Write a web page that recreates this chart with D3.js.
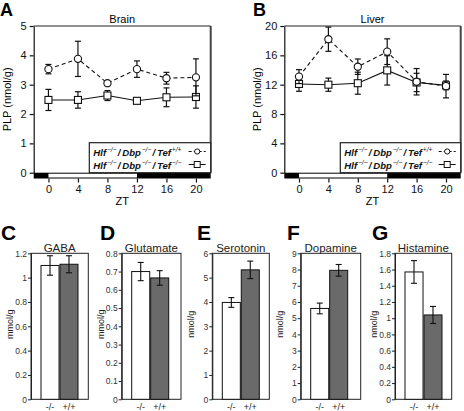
<!DOCTYPE html>
<html><head><meta charset="utf-8">
<script src="https://cdn.jsdelivr.net/npm/d3@7"></script>
<style>
html,body{margin:0;padding:0;background:#fff;}
svg{display:block;font-family:"Liberation Sans",Arial,Helvetica,sans-serif;}
</style></head>
<body>
<svg id="chart" width="464" height="411"></svg>
<script>
// ---------- DATA ----------
const zt = [0, 4, 8, 12, 16, 20];
const ztTicks = [0, 4, 8, 12, 16, 20];
const brainWT = [3.53, 3.88, 3.05, 3.53, 3.22, 3.25];
const brainWTErr = [0.16, 0.6, 0.05, 0.28, 0.2, 0.63];
const brainKO = [2.48, 2.48, 2.63, 2.45, 2.57, 2.58];
const brainKOErr = [0.36, 0.28, 0.17, 0.09, 0.32, 0.38];
const brainTicks = [0, 1, 2, 3, 4, 5];
const liverWT = [13.1, 18.2, 14.45, 16.5, 12.4, 11.8];
const liverWTErr = [0.95, 1.65, 1.05, 1.75, 1.8, 1.6];
const liverKO = [12.1, 12.0, 12.2, 13.95, 12.3, 11.9];
const liverKOErr = [1.0, 0.9, 1.5, 2.0, 1.25, 0.6];
const liverTicks = [0, 4, 8, 12, 16, 20];
const legendGenes = ["Hlf", "Dbp", "Tef"];
const legendWT = ["\u2212/\u2212", "\u2212/\u2212", "+/+"];
const legendKO = ["\u2212/\u2212", "\u2212/\u2212", "\u2212/\u2212"];
const genotypes = ["-/-", "+/+"];
const gabaVals = [1.10, 1.11], gabaErr = [0.08, 0.07];
const gabaTicks = [0, 0.2, 0.4, 0.6, 0.8, 1, 1.2];
const gluVals = [0.70, 0.665], gluErr = [0.05, 0.04];
const gluTicks = [0, 0.1, 0.2, 0.3, 0.4, 0.5, 0.6, 0.7, 0.8];
const seroVals = [3.98, 5.32], seroErr = [0.2, 0.36];
const seroTicks = [0, 1, 2, 3, 4, 5, 6];
const dopaVals = [5.6, 7.95], dopaErr = [0.33, 0.36];
const dopaTicks = [0, 1, 2, 3, 4, 5, 6, 7, 8, 9];
const histVals = [1.57, 1.04], histErr = [0.14, 0.105];
const histTicks = [0, 0.2, 0.4, 0.6, 0.8, 1, 1.2, 1.4, 1.6, 1.8];

const svg = d3.select("#chart");

function legendRow(g, x0, yBase, sups) {
  let cx = x0;
  legendGenes.forEach((gene, i) => {
    const t = g.append("text").attr("x", cx).attr("y", yBase).attr("font-size", 9.6)
      .attr("font-style", "italic").attr("font-weight", "bold").attr("fill", "#111").text(gene);
    cx += t.node().getComputedTextLength() + 0.8;
    const s = g.append("text").attr("x", cx).attr("y", yBase - 4).attr("font-size", 6.6)
      .attr("font-style", "italic").attr("fill", "#111").text(sups[i]);
    cx += s.node().getComputedTextLength() + 1.3;
    if (i < legendGenes.length - 1) {
      const sl = g.append("text").attr("x", cx).attr("y", yBase).attr("font-size", 9.6)
        .attr("font-style", "italic").attr("font-weight", "bold").attr("fill", "#111").text("/");
      cx += sl.node().getComputedTextLength() + 1.8;
    }
  });
}

// ---------- LINE PANELS ----------
function linePanel(o) {
  const g = svg.append("g");
  const x = d3.scaleLinear().domain([-2, 22]).range([o.left, o.right]);
  const y = d3.scaleLinear().domain([0, o.ymax]).range([o.bottom, o.top]);
  g.append("text").attr("x", o.letterX).attr("y", 16).attr("font-size", 18).attr("font-weight", "bold").text(o.letter);
  g.append("text").attr("x", (o.left + o.right) / 2).attr("y", 23).attr("text-anchor", "middle").attr("font-size", 11).text(o.title);
  g.append("line").attr("x1", o.left).attr("x2", o.right).attr("y1", o.top).attr("y2", o.top).attr("stroke", "#222").attr("stroke-width", 1.2);
  g.append("line").attr("x1", o.right).attr("x2", o.right).attr("y1", o.top).attr("y2", o.bottom).attr("stroke", "#444").attr("stroke-width", 2);
  const ya = g.append("g").attr("transform", `translate(${o.left},0)`)
    .call(d3.axisLeft(y).tickValues(o.ticks).tickSize(4).tickSizeOuter(0).tickFormat(d3.format("d")));
  ya.select(".domain").attr("stroke", "#111").attr("stroke-width", 1.2);
  ya.selectAll("line").attr("stroke", "#111").attr("stroke-width", 1.2);
  ya.selectAll("text").attr("font-size", 11).attr("fill", "#111").attr("font-family", "Liberation Sans, Arial, sans-serif");
  g.append("text").attr("transform", `translate(${o.left - 23},${(o.top + o.bottom) / 2}) rotate(-90)`)
    .attr("text-anchor", "middle").attr("font-size", 11).text("PLP (nmol/g)");
  const barH = 5.8;
  g.append("rect").attr("x", o.left).attr("y", o.bottom).attr("width", o.right - o.left).attr("height", barH).attr("fill", "#000");
  g.append("rect").attr("x", x(0)).attr("y", o.bottom + 1).attr("width", x(12) - x(0)).attr("height", barH - 2).attr("fill", "#fff");
  const xa = g.append("g").attr("transform", `translate(0,${o.bottom + barH})`)
    .call(d3.axisBottom(x).tickValues(ztTicks).tickSize(4).tickSizeOuter(0).tickPadding(3).tickFormat(d3.format("d")));
  xa.select(".domain").remove();
  xa.selectAll("line").attr("stroke", "#111").attr("stroke-width", 1.2);
  xa.selectAll("text").attr("font-size", 11).attr("fill", "#111").attr("font-family", "Liberation Sans, Arial, sans-serif");
  g.append("text").attr("x", (o.left + o.right) / 2).attr("y", 205).attr("text-anchor", "middle").attr("font-size", 11).text("ZT");

  // legend
  const lx = o.legendX, ly = 142.7, lw = o.right - o.legendX, lh = o.bottom - 142.7;
  g.append("rect").attr("x", lx).attr("y", ly).attr("width", lw).attr("height", lh).attr("fill", "#fff").attr("stroke", "#222").attr("stroke-width", 1.2);
  const legendItems = [
    { sups: legendWT, dash: "3,2", shape: "circle", yy: 151.5 },
    { sups: legendKO, dash: null, shape: "square", yy: 164.5 }
  ];
  legendItems.forEach(it => {
    legendRow(g, lx + 4, it.yy + 4, it.sups);
    const sx1 = o.right - 22, sx2 = o.right - 5, sxm = (sx1 + sx2) / 2;
    g.append("line").attr("x1", sx1).attr("x2", sx2).attr("y1", it.yy).attr("y2", it.yy).attr("stroke", "#111").attr("stroke-width", 1)
      .attr("stroke-dasharray", it.dash);
    if (it.shape === "circle") g.append("circle").attr("cx", sxm).attr("cy", it.yy).attr("r", 2.6).attr("fill", "#fff").attr("stroke", "#111");
    else g.append("rect").attr("x", sxm - 3).attr("y", it.yy - 3).attr("width", 6).attr("height", 6).attr("fill", "#fff").attr("stroke", "#111");
  });

  const series = [
    { vals: o.ko, err: o.koErr, dash: null, shape: "square" },
    { vals: o.wt, err: o.wtErr, dash: "4,3", shape: "circle" }
  ];
  series.forEach(s => {
    const pts = zt.map((z, i) => ({ z, v: s.vals[i], e: s.err[i] }));
    pts.forEach(p => {
      g.append("line").attr("x1", x(p.z)).attr("x2", x(p.z)).attr("y1", y(p.v - p.e)).attr("y2", y(p.v + p.e)).attr("stroke", "#111").attr("stroke-width", 1.2);
      [p.v - p.e, p.v + p.e].forEach(v => g.append("line").attr("x1", x(p.z) - 3).attr("x2", x(p.z) + 3).attr("y1", y(v)).attr("y2", y(v)).attr("stroke", "#111").attr("stroke-width", 1.2));
    });
    g.append("path").datum(pts).attr("fill", "none").attr("stroke", "#111").attr("stroke-width", 1.1)
      .attr("stroke-dasharray", s.dash)
      .attr("d", d3.line().x(p => x(p.z)).y(p => y(p.v)));
    pts.forEach(p => {
      if (s.shape === "circle") g.append("circle").attr("cx", x(p.z)).attr("cy", y(p.v)).attr("r", 3.6).attr("fill", "#fff").attr("stroke", "#111").attr("stroke-width", 1.1);
      else g.append("rect").attr("x", x(p.z) - 3.5).attr("y", y(p.v) - 3.5).attr("width", 7).attr("height", 7).attr("fill", "#fff").attr("stroke", "#111").attr("stroke-width", 1.1);
    });
  });
}

linePanel({ letter: "A", letterX: 0, title: "Brain", left: 33.7, right: 210.7, top: 26, bottom: 172.7, ymax: 5, ticks: brainTicks,
  wt: brainWT, wtErr: brainWTErr, ko: brainKO, koErr: brainKOErr, legendX: 89.3 });
linePanel({ letter: "B", letterX: 253, title: "Liver", left: 284.3, right: 460.7, top: 26, bottom: 172.7, ymax: 20, ticks: liverTicks,
  wt: liverWT, wtErr: liverWTErr, ko: liverKO, koErr: liverKOErr, legendX: 340.3 });

// ---------- BAR PANELS ----------
function barPanel(o) {
  const g = svg.append("g");
  const top = 253.3, bottom = 399.3;
  const y = d3.scaleLinear().domain([0, o.ymax]).range([bottom, top]);
  const x = d3.scaleBand().domain(genotypes).range([o.left + 10, o.left + 47]).paddingInner(0.05).paddingOuter(0);
  g.append("text").attr("x", o.letterX).attr("y", 240).attr("font-size", 21).attr("font-weight", "bold").text(o.letter);
  g.append("text").attr("x", (o.left + o.right) / 2).attr("y", 251.5).attr("text-anchor", "middle").attr("font-size", 11.5).attr("fill", "#222").text(o.title);
  g.append("rect").attr("x", o.left).attr("y", top).attr("width", o.right - o.left).attr("height", bottom - top)
    .attr("fill", "none").attr("stroke", "#222").attr("stroke-width", 1);
  const ya = g.append("g").attr("transform", `translate(${o.left},0)`)
    .call(d3.axisLeft(y).tickValues(o.ticks).tickSize(3).tickSizeOuter(0).tickPadding(1).tickFormat(d => String(+d.toFixed(2))));
  ya.select(".domain").attr("stroke", "#222");
  ya.selectAll("line").attr("stroke", "#222");
  ya.selectAll("text").attr("font-size", 8.5).attr("fill", "#333").attr("font-family", "Liberation Sans, Arial, sans-serif");
  g.append("text").attr("transform", `translate(${o.left - 18},${(top + bottom) / 2 - 2}) rotate(-90)`)
    .attr("text-anchor", "middle").attr("font-size", 9).attr("fill", "#222").text(o.unit);
  genotypes.forEach((gt, i) => {
    g.append("rect").attr("x", x(gt)).attr("y", y(o.vals[i])).attr("width", x.bandwidth()).attr("height", bottom - y(o.vals[i]))
      .attr("fill", i === 0 ? "#fff" : "#6a6a6a").attr("stroke", "#111").attr("stroke-width", 1);
    const cx = x(gt) + x.bandwidth() / 2;
    const lo = y(o.vals[i] - o.err[i]), hi = y(o.vals[i] + o.err[i]);
    g.append("line").attr("x1", cx).attr("x2", cx).attr("y1", lo).attr("y2", hi).attr("stroke", "#111").attr("stroke-width", 1.1);
    [lo, hi].forEach(yy => g.append("line").attr("x1", cx - 3).attr("x2", cx + 3).attr("y1", yy).attr("y2", yy).attr("stroke", "#111").attr("stroke-width", 1.1));
    g.append("text").attr("x", cx).attr("y", 410).attr("text-anchor", "middle").attr("font-size", 9).attr("fill", "#222").text(gt);
  });
}

barPanel({ letter: "C", letterX: 1, title: "GABA", left: 31, right: 88.3, ymax: 1.2, ticks: gabaTicks, vals: gabaVals, err: gabaErr, unit: "mmol/g" });
barPanel({ letter: "D", letterX: 100, title: "Glutamate", left: 121.7, right: 181, ymax: 0.8, ticks: gluTicks, vals: gluVals, err: gluErr, unit: "mmol/g" });
barPanel({ letter: "E", letterX: 197, title: "Serotonin", left: 212.3, right: 269.3, ymax: 6, ticks: seroTicks, vals: seroVals, err: seroErr, unit: "nmol/g" });
barPanel({ letter: "F", letterX: 287, title: "Dopamine", left: 300.7, right: 360.7, ymax: 9, ticks: dopaTicks, vals: dopaVals, err: dopaErr, unit: "nmol/g" });
barPanel({ letter: "G", letterX: 372, title: "Histamine", left: 395, right: 451.7, ymax: 1.8, ticks: histTicks, vals: histVals, err: histErr, unit: "nmol/g" });
</script>
</body></html>
